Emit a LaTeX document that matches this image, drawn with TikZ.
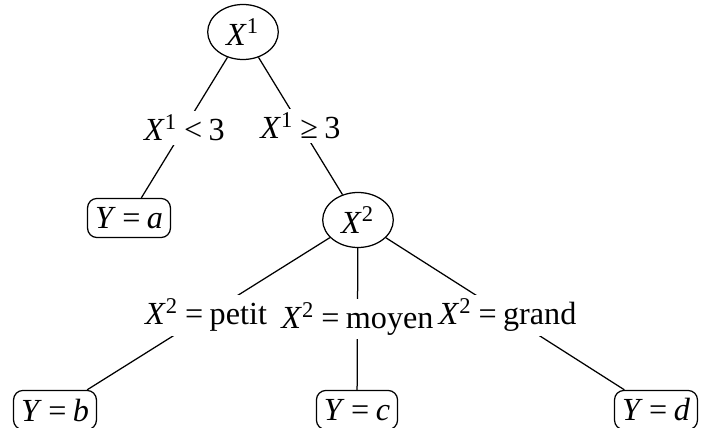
\documentclass[tikz,border=0pt]{standalone}
\usepackage{fontspec}
\setmainfont{Liberation Serif}
\usetikzlibrary{shapes.geometric}
\newcommand\vv[1]{\textit{#1}}
\newcommand\rel[1]{\hspace{0.2em}#1\hspace{0.2em}}
\begin{document}
\begin{tikzpicture}[x=0.32pt,y=-0.32pt,line width=0.4pt,
  every node/.style={font=\fontsize{10.3}{12}\selectfont},
  inner/.style={draw,ellipse,inner sep=0.5pt,minimum width=22.6pt,minimum height=17.6pt},
  leaf/.style={draw,rounded corners=3pt,inner xsep=2.4pt,inner ysep=1.4pt,minimum height=12.5pt},
  lbl/.style={fill=white,inner sep=1.2pt,outer sep=0pt}]
\useasboundingbox (0,0) rectangle (701,428);
\node[inner] (x1) at (243,32) {\vv{X}\textsuperscript{1}};
\node[leaf] (ya) at (129,218) {\vv{Y}\rel{=}\vv{a}};
\node[inner] (x2) at (358,220) {\vv{X}\textsuperscript{2}};
\node[leaf] (yb) at (55,410) {\vv{Y}\rel{=}\vv{b}};
\node[leaf] (yc) at (357,410) {\vv{Y}\rel{=}\vv{c}};
\node[leaf] (yd) at (656,410) {\vv{Y}\rel{=}\vv{d}};
\draw (x1) -- node[lbl] (l1) {\vv{X}\textsuperscript{1}\rel{<}3} (ya);
\draw (x1) -- node[lbl] (l2) {\vv{X}\textsuperscript{1}\rel{≥}3} (x2);
\draw (x2) -- node[lbl,pos=0.51] (l3) {\vv{X}\textsuperscript{2}\rel{=}petit} (yb);
\draw (x2) -- node[lbl] (l4) {\vv{X}\textsuperscript{2}\rel{=}moyen} (yc);
\draw (x2) -- node[lbl,pos=0.51] (l5) {\vv{X}\textsuperscript{2}\rel{=}grand} (yd);
\end{tikzpicture}
\end{document}
